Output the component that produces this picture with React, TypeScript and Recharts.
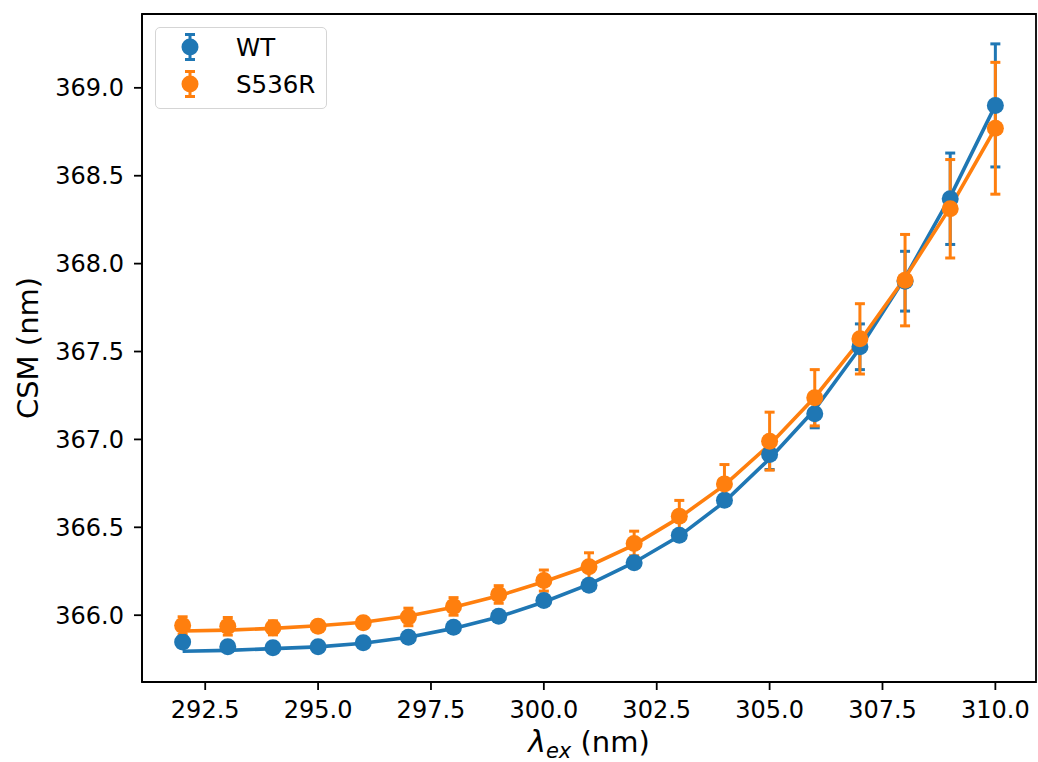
import React from 'react'
import {
  ComposedChart,
  Line,
  Scatter,
  ErrorBar,
  XAxis,
  YAxis,
  ReferenceArea
} from 'recharts'

const excitation = [292, 293, 294, 295, 296, 297, 298, 299, 300, 301, 302, 303, 304, 305, 306, 307, 308, 309, 310]

const wtMean = [365.847, 365.82, 365.815, 365.82, 365.843, 365.875, 365.932, 365.994, 366.084, 366.17, 366.298, 366.455, 366.654, 366.914, 367.146, 367.527, 367.9, 368.369, 368.9]
const wtErr = [0.03, 0.02, 0.02, 0.02, 0.02, 0.02, 0.02, 0.02, 0.02, 0.02, 0.02, 0.02, 0.03, 0.085, 0.08, 0.13, 0.17, 0.26, 0.35]
const wtFit = [365.795, 365.8, 365.81, 365.82, 365.84, 365.875, 365.925, 365.99, 366.075, 366.175, 366.3, 366.45, 366.645, 366.89, 367.17, 367.52, 367.92, 368.38, 368.9]

const mutMean = [365.941, 365.937, 365.928, 365.937, 365.957, 365.99, 366.05, 366.118, 366.197, 366.275, 366.408, 366.563, 366.747, 366.99, 367.237, 367.572, 367.906, 368.312, 368.77]
const mutErr = [0.05, 0.05, 0.04, 0.03, 0.03, 0.05, 0.05, 0.05, 0.06, 0.08, 0.07, 0.09, 0.11, 0.165, 0.16, 0.2, 0.26, 0.28, 0.375]
const mutFit = [365.91, 365.915, 365.925, 365.94, 365.96, 365.995, 366.045, 366.11, 366.19, 366.28, 366.4, 366.555, 366.74, 366.97, 367.24, 367.56, 367.92, 368.32, 368.77]

const xTicks = [292.5, 295, 297.5, 300, 302.5, 305, 307.5, 310]
const yTicks = [366, 366.5, 367, 367.5, 368, 368.5, 369]

const BLUE = '#1f77b4'
const ORANGE = '#ff7f0e'
const FONT = 'DejaVu Sans'

const xDomain: [number, number] = [291.1, 310.9]
const yDomain: [number, number] = [365.62, 369.42]

const wtRows = excitation.map((x, i) => ({ x, y: wtMean[i], err: wtErr[i], fit: wtFit[i] }))
const mutRows = excitation.map((x, i) => ({ x, y: mutMean[i], err: mutErr[i], fit: mutFit[i] }))

const legendItems = [
  { name: 'WT', color: BLUE },
  { name: 'S536R', color: ORANGE }
]

const dot = (color: string) => (props: any) => (
  <circle cx={props.cx} cy={props.cy} r={8.5} fill={color} />
)

const tickStyle = { fill: '#000', fontSize: 24, fontFamily: FONT }

function XLabel(props: any) {
  const vb = props.viewBox
  const cx = vb.x + vb.width / 2
  return (
    <text x={cx} y={752} textAnchor="middle" fontFamily={FONT} fontSize={29} fill="#000">
      <tspan fontStyle="italic" fontSize={30}>λ</tspan>
      <tspan fontStyle="italic" fontSize={21} dy={6}>ex</tspan>
      <tspan dy={-6}>{' (nm)'}</tspan>
    </text>
  )
}

function YLabel(props: any) {
  const vb = props.viewBox
  const cy = vb.y + vb.height / 2
  return (
    <text
      x={38}
      y={cy}
      transform={`rotate(-90, 38, ${cy})`}
      textAnchor="middle"
      fontFamily={FONT}
      fontSize={29}
      fill="#000"
    >
      CSM (nm)
    </text>
  )
}

function LegendBox() {
  return (
    <div
      style={{
        position: 'absolute',
        left: 155,
        top: 27,
        width: 172,
        height: 82,
        boxSizing: 'border-box',
        border: '1.5px solid #d5d5d5',
        borderRadius: 5,
        background: 'rgba(255,255,255,0.8)'
      }}
    >
      <svg width={170} height={79} style={{ position: 'absolute', left: 0, top: 0 }}>
        {legendItems.map((item, i) => {
          const cy = 19 + i * 37
          return (
            <g key={item.name}>
              <line x1={34} x2={34} y1={cy - 12.5} y2={cy + 12.5} stroke={item.color} strokeWidth={3} />
              <line x1={29} x2={39} y1={cy - 12.5} y2={cy - 12.5} stroke={item.color} strokeWidth={3} />
              <line x1={29} x2={39} y1={cy + 12.5} y2={cy + 12.5} stroke={item.color} strokeWidth={3} />
              <circle cx={34} cy={cy} r={8.5} fill={item.color} />
              <text x={80} y={cy + 9} fontFamily={FONT} fontSize={24.5} fill="#000">
                {item.name}
              </text>
            </g>
          )
        })}
      </svg>
    </div>
  )
}

export default function App() {
  return (
    <div style={{ position: 'absolute', left: 0, top: 0, width: 1038, height: 762, background: '#fff' }}>
      <ComposedChart width={1038} height={762} margin={{ top: 14, right: 2, bottom: 0, left: 0 }}>
        <XAxis
          type="number"
          dataKey="x"
          domain={xDomain}
          ticks={xTicks}
          allowDataOverflow
          tickFormatter={(v: number) => v.toFixed(1)}
          tick={tickStyle}
          tickSize={8}
          tickMargin={11}
          height={80}
          axisLine={{ stroke: '#000', strokeWidth: 1.8 }}
          tickLine={{ stroke: '#000', strokeWidth: 1.8 }}
          label={<XLabel />}
        />
        <YAxis
          type="number"
          domain={yDomain}
          ticks={yTicks}
          allowDataOverflow
          tickFormatter={(v: number) => v.toFixed(1)}
          tick={tickStyle}
          tickSize={8}
          tickMargin={10}
          width={142}
          axisLine={{ stroke: '#000', strokeWidth: 1.8 }}
          tickLine={{ stroke: '#000', strokeWidth: 1.8 }}
          label={<YLabel />}
        />
        <ReferenceArea
          x1={xDomain[0]}
          x2={xDomain[1]}
          y1={yDomain[0]}
          y2={yDomain[1]}
          fill="none"
          stroke="#000"
          strokeWidth={1.8}
        />
        <Line
          data={wtRows}
          dataKey="fit"
          stroke={BLUE}
          strokeWidth={3.6}
          dot={false}
          activeDot={false}
          isAnimationActive={false}
        />
        <Scatter data={wtRows} dataKey="y" shape={dot(BLUE)} isAnimationActive={false}>
          <ErrorBar dataKey="err" direction="y" width={5} stroke={BLUE} strokeWidth={3} />
        </Scatter>
        <Line
          data={mutRows}
          dataKey="fit"
          stroke={ORANGE}
          strokeWidth={3.6}
          dot={false}
          activeDot={false}
          isAnimationActive={false}
        />
        <Scatter data={mutRows} dataKey="y" shape={dot(ORANGE)} isAnimationActive={false}>
          <ErrorBar dataKey="err" direction="y" width={5} stroke={ORANGE} strokeWidth={3} />
        </Scatter>
      </ComposedChart>
      <LegendBox />
    </div>
  )
}
